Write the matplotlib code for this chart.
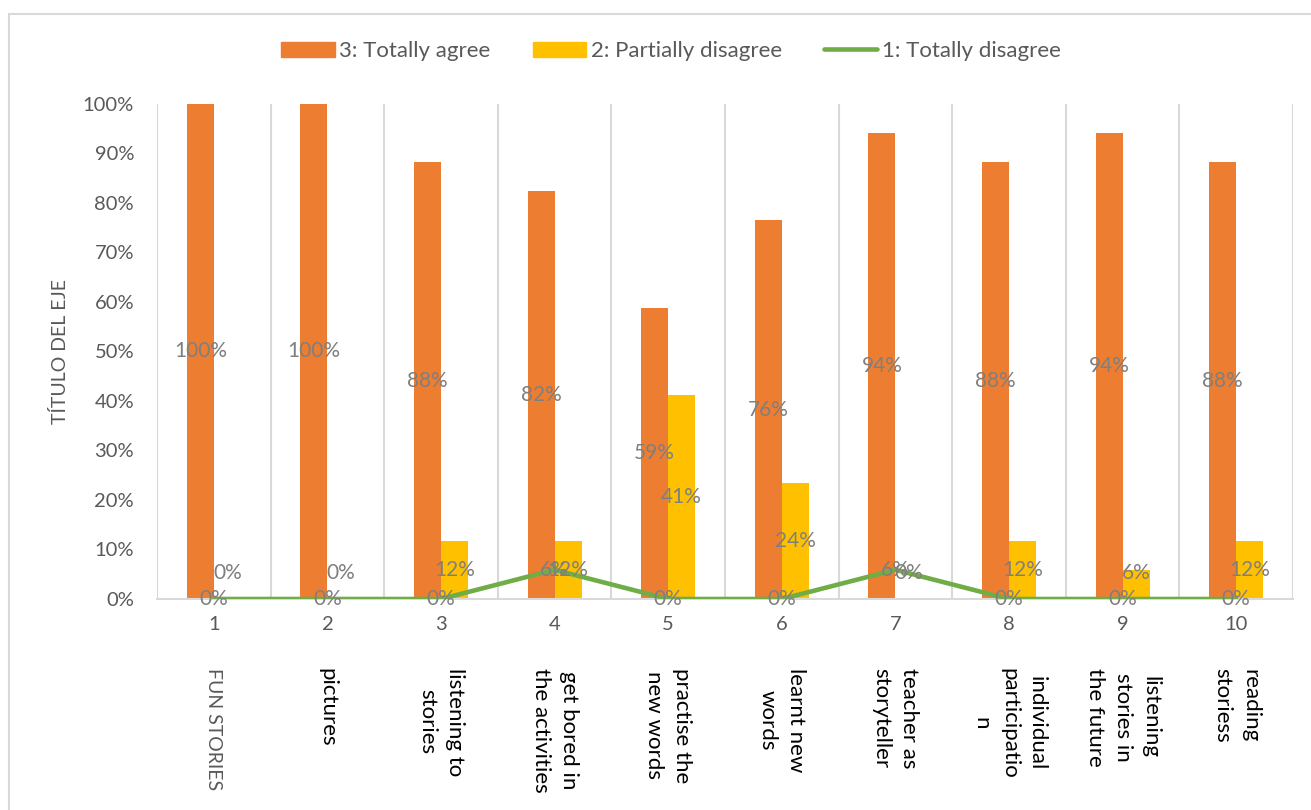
import matplotlib
matplotlib.use('Agg')
import matplotlib.pyplot as plt
from matplotlib.patches import Patch, Rectangle
from matplotlib.lines import Line2D
import numpy as np

plt.rcParams['font.family'] = ['Lato', 'DejaVu Sans']

# survey answers, share of students per item
item_numbers = ['1', '2', '3', '4', '5', '6', '7', '8', '9', '10']
item_names = [
    'FUN STORIES',
    'pictures',
    'listening to\nstories',
    'get bored in\nthe activities',
    'practise the\nnew words',
    'learnt new\nwords',
    'teacher as\nstoryteller',
    'individual\nparticipatio\nn',
    'listening\nstories in\nthe future',
    'reading\nstoriess',
]
totally_agree = [1.0, 1.0, 0.882, 0.824, 0.588, 0.765, 0.941, 0.882, 0.941, 0.882]
partially_disagree = [0.0, 0.0, 0.118, 0.118, 0.412, 0.235, 0.0, 0.118, 0.059, 0.118]
totally_disagree = [0.0, 0.0, 0.0, 0.059, 0.0, 0.0, 0.059, 0.0, 0.0, 0.0]

series_names = ['3: Totally agree', '2: Partially disagree', '1: Totally disagree']

ORANGE = '#ED7D31'
YELLOW = '#FFC000'
GREEN = '#70AD47'
GRID = '#D9D9D9'
TXT = '#595959'
LBL = '#7F7F7F'

fig = plt.figure(figsize=(13.11, 8.10), dpi=100)
ax = fig.add_axes([157 / 1311, 1 - 599 / 810, (1293 - 157) / 1311, (599 - 104) / 810])

# chart border (excel style)
fig.patches.append(Rectangle((9 / 1311, -0.05), 1.1, 1 - 14 / 810 + 0.05,
                             transform=fig.transFigure, fill=False,
                             edgecolor=GRID, linewidth=1.5))

x = np.arange(len(item_numbers))
w = 0.238
ax.bar(x - w / 2, totally_agree, w, color=ORANGE, zorder=2)
ax.bar(x + w / 2, partially_disagree, w, color=YELLOW, zorder=2)
ax.plot(x, totally_disagree, color=GREEN, linewidth=3.3, zorder=3,
        solid_capstyle='round')

# data labels
for i in range(len(x)):
    ax.text(x[i] - w / 2, totally_agree[i] / 2, '{:.0%}'.format(totally_agree[i]),
            ha='center', va='center', color=LBL, fontsize=15, zorder=5)
    ax.text(x[i] + w / 2, max(partially_disagree[i] / 2, 0.052),
            '{:.0%}'.format(partially_disagree[i]),
            ha='center', va='center', color=LBL, fontsize=15, zorder=5)
    ax.text(x[i], totally_disagree[i], '{:.0%}'.format(totally_disagree[i]),
            ha='center', va='center', color=LBL, fontsize=15, zorder=5)

ax.set_xlim(-0.5, len(x) - 0.5)
ax.set_ylim(0, 1)
ax.set_yticks(np.arange(0, 1.01, 0.1))
ax.set_yticklabels(['{:.0%}'.format(v) for v in np.arange(0, 1.01, 0.1)])
ax.set_xticks(x)
ax.set_xticklabels(item_numbers)
ax.tick_params(axis='both', length=0, labelsize=14.5, labelcolor=TXT)
ax.tick_params(axis='x', pad=12)
ax.tick_params(axis='y', pad=16.5)

# vertical separators between categories
for b in np.arange(-0.5, len(x), 1.0):
    ax.axvline(b, color=GRID, linewidth=1.5, zorder=1)

for s in ['top', 'right', 'left']:
    ax.spines[s].set_visible(False)
ax.spines['bottom'].set_color(GRID)
ax.spines['bottom'].set_linewidth(1.5)

ax.set_ylabel('TÍTULO DEL EJE', color=TXT, fontsize=14, labelpad=10)

# second level of category labels
for i, name in enumerate(item_names):
    ax.text(x[i], -0.139, name, rotation=270, ha='center', va='top',
            fontsize=14 if i == 0 else 16, color=TXT if i == 0 else 'black',
            linespacing=1.5, transform=ax.get_xaxis_transform())

handles = [Patch(color=ORANGE), Patch(color=YELLOW),
           Line2D([0], [0], color=GREEN, linewidth=3.3, solid_capstyle='round')]
fig.legend(handles, series_names, loc='center', bbox_to_anchor=(671 / 1311, 1 - 51 / 810),
           ncol=3, frameon=False, fontsize=16, labelcolor=TXT,
           handlelength=2.4, handleheight=0.65, handletextpad=0.2, columnspacing=1.9)

fig.savefig('out.png', dpi=100)
